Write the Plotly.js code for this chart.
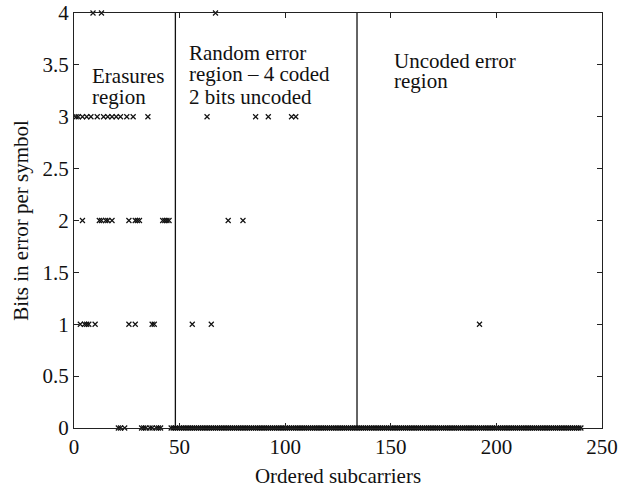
<!DOCTYPE html>
<html>
<head>
<meta charset="utf-8">
<script src="https://cdn.plot.ly/plotly-3.0.1.min.js"></script>
<style>html,body{margin:0;padding:0;background:#fff;}#chart{width:619px;height:488px;}</style>
</head>
<body>
<div id="chart"></div>
<script>
// Ordered subcarrier index for each plotted symbol
const subcarrier = [
  1, 2, 3, 4, 4, 5, 6, 6, 7, 8, 9, 10, 11, 12, 13, 13, 14, 15, 16, 16,
  18, 18, 20, 21, 22, 22, 24, 25, 26, 26, 28, 29, 29, 30, 31, 32, 33, 34, 35, 36,
  37, 37, 38, 39, 40, 41, 42, 43, 44, 45,
  56, 63, 65, 67, 73, 80, 86, 92, 103, 105, 192,
  46, 47, 48, 49, 50, 51, 52, 53, 54, 55, 56, 57, 58, 59, 60, 61, 62, 63, 64, 65,
  66, 67, 68, 69, 70, 71, 72, 73, 74, 75, 76, 77, 78, 79, 80, 81, 82, 83, 84, 85,
  86, 87, 88, 89, 90, 91, 92, 93, 94, 95, 96, 97, 98, 99, 100, 101, 102, 103, 104, 105,
  106, 107, 108, 109, 110, 111, 112, 113, 114, 115, 116, 117, 118, 119, 120, 121, 122, 123, 124, 125,
  126, 127, 128, 129, 130, 131, 132, 133, 134, 135, 136, 137, 138, 139, 140, 141, 142, 143, 144, 145,
  146, 147, 148, 149, 150, 151, 152, 153, 154, 155, 156, 157, 158, 159, 160, 161, 162, 163, 164, 165,
  166, 167, 168, 169, 170, 171, 172, 173, 174, 175, 176, 177, 178, 179, 180, 181, 182, 183, 184, 185,
  186, 187, 188, 189, 190, 191, 192, 193, 194, 195, 196, 197, 198, 199, 200, 201, 202, 203, 204, 205,
  206, 207, 208, 209, 210, 211, 212, 213, 214, 215, 216, 217, 218, 219, 220, 221, 222, 223, 224, 225,
  226, 227, 228, 229, 230, 231, 232, 233, 234, 235, 236, 237, 238, 239, 240
];
// Bits in error per symbol for each entry above
const bitsInError = [
  3, 3, 1, 3, 2, 1, 3, 1, 1, 3, 4, 1, 3, 2, 4, 2, 3, 2, 3, 2,
  3, 2, 3, 0, 3, 0, 0, 3, 2, 1, 3, 2, 1, 2, 2, 0, 0, 0, 3, 0,
  1, 0, 1, 0, 0, 0, 2, 2, 2, 2,
  1, 3, 1, 4, 2, 2, 3, 3, 3, 3, 1,
  0, 0, 0, 0, 0, 0, 0, 0, 0, 0, 0, 0, 0, 0, 0, 0, 0, 0, 0, 0,
  0, 0, 0, 0, 0, 0, 0, 0, 0, 0, 0, 0, 0, 0, 0, 0, 0, 0, 0, 0,
  0, 0, 0, 0, 0, 0, 0, 0, 0, 0, 0, 0, 0, 0, 0, 0, 0, 0, 0, 0,
  0, 0, 0, 0, 0, 0, 0, 0, 0, 0, 0, 0, 0, 0, 0, 0, 0, 0, 0, 0,
  0, 0, 0, 0, 0, 0, 0, 0, 0, 0, 0, 0, 0, 0, 0, 0, 0, 0, 0, 0,
  0, 0, 0, 0, 0, 0, 0, 0, 0, 0, 0, 0, 0, 0, 0, 0, 0, 0, 0, 0,
  0, 0, 0, 0, 0, 0, 0, 0, 0, 0, 0, 0, 0, 0, 0, 0, 0, 0, 0, 0,
  0, 0, 0, 0, 0, 0, 0, 0, 0, 0, 0, 0, 0, 0, 0, 0, 0, 0, 0, 0,
  0, 0, 0, 0, 0, 0, 0, 0, 0, 0, 0, 0, 0, 0, 0, 0, 0, 0, 0, 0,
  0, 0, 0, 0, 0, 0, 0, 0, 0, 0, 0, 0, 0, 0, 0
];
// Region boundaries (subcarrier index)
const regionBounds = [48, 134];
// Region label lines and their anchor positions (data coords)
const regionLabels = [
  {lines: ["Erasures", "region"], x: 7.6, y: [3.39, 3.19]},
  {lines: ["Random error", "region – 4 coded", "2 bits uncoded"], x: 53.7, y: [3.61, 3.41, 3.19]},
  {lines: ["Uncoded error", "region"], x: 150.6, y: [3.54, 3.34]}
];
const xTicks = [0, 50, 100, 150, 200, 250];
const yTicks = [0, 0.5, 1, 1.5, 2, 2.5, 3, 3.5, 4];
const yTickText = ["0", "0.5", "1", "1.5", "2", "2.5", "3", "3.5", "4"];

const FONT = "Liberation Serif";
const traces = [];
regionBounds.forEach(b => {
  traces.push({x: [b, b], y: [0, 4], mode: 'lines', line: {color: '#111', width: 1.3},
    hoverinfo: 'skip', showlegend: false, cliponaxis: false});
});
traces.push({
  x: subcarrier, y: bitsInError, mode: 'markers', type: 'scatter', cliponaxis: false,
  marker: {symbol: 'x-thin', size: 5, color: '#111', line: {width: 1.2, color: '#111'}},
  showlegend: false
});

const annotations = [];
regionLabels.forEach(r => {
  r.lines.forEach((t, i) => {
    annotations.push({x: r.x, y: r.y[i], xref: 'x', yref: 'y', text: t, showarrow: false,
      xanchor: 'left', yanchor: 'middle', font: {family: FONT, size: 21, color: '#111'}});
  });
});

const axisCommon = {
  showline: true, linecolor: '#222', linewidth: 1, mirror: 'ticks',
  ticks: 'inside', ticklen: 5, tickcolor: '#222', tickwidth: 1,
  showgrid: false, zeroline: false,
  tickfont: {family: FONT, size: 21, color: '#111'}
};

const layout = {
  width: 619, height: 488,
  font: {family: FONT, size: 21, color: '#111'},
  margin: {l: 74, r: 17, t: 13, b: 60},
  paper_bgcolor: '#fff', plot_bgcolor: '#fff',
  showlegend: false,
  xaxis: Object.assign({}, axisCommon, {
    range: [0, 250], tickmode: 'array', tickvals: xTicks,
    title: {text: 'Ordered subcarriers', font: {family: FONT, size: 21, color: '#111'}, standoff: 12}
  }),
  yaxis: Object.assign({}, axisCommon, {
    range: [0, 4], tickmode: 'array', tickvals: yTicks, ticktext: yTickText,
    title: {text: 'Bits in error per symbol', font: {family: FONT, size: 21, color: '#111'}, standoff: 8}
  }),
  annotations: annotations
};

Plotly.newPlot('chart', traces, layout, {displayModeBar: false, staticPlot: true});
</script>
</body>
</html>
